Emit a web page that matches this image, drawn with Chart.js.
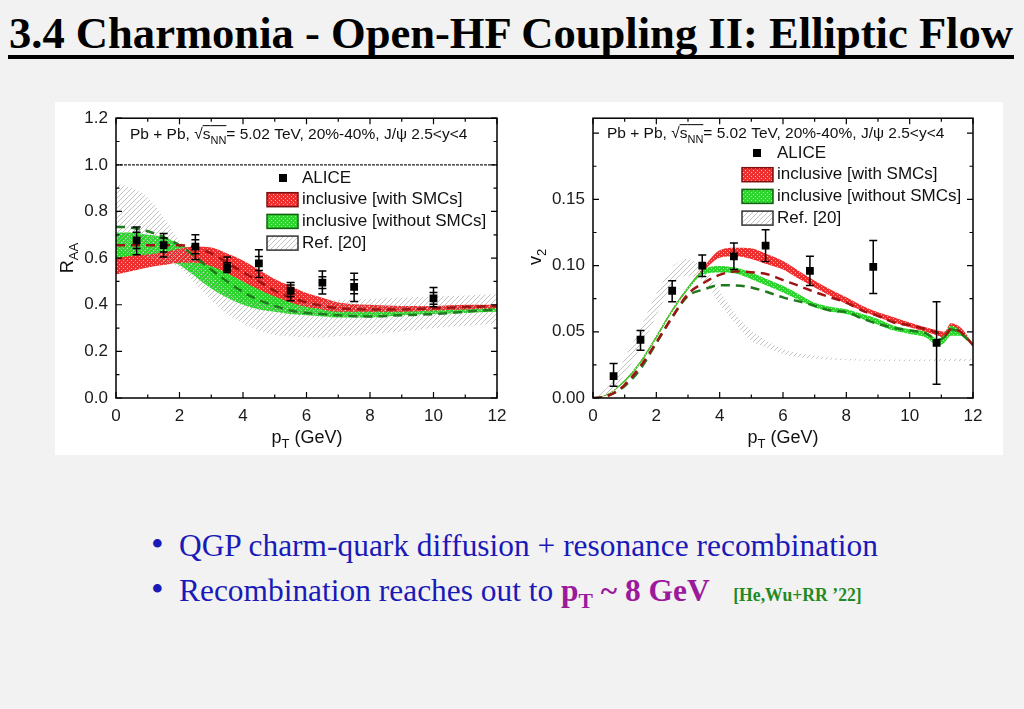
<!DOCTYPE html>
<html>
<head>
<meta charset="utf-8">
<script src="https://cdn.jsdelivr.net/npm/chart.js@4.4.1/dist/chart.umd.min.js"></script>
<style>
  html, body { margin: 0; padding: 0; }
  body { width: 1024px; height: 709px; background: #f2f2f2; position: relative; overflow: hidden;
         font-family: 'Liberation Serif', 'Times New Roman', serif; }
  #title { position: absolute; left: 9px; top: 12px; font-weight: bold; font-size: 44px; line-height: 44px;
           white-space: nowrap; transform-origin: 0 0; color: #000; }
  #rule { position: absolute; left: 8px; top: 55px; width: 1006px; height: 3.5px; background: #000; }
  #panel { position: absolute; left: 55px; top: 102px; width: 948px; height: 353px; background: #fff; }
  canvas { position: absolute; }
  .bul { position: absolute; left: 151px; font-size: 36px; line-height: 36px; color: #1a1ab8; }
  .line { position: absolute; left: 179px; font-size: 32px; line-height: 32px; color: #1a1ab8;
          white-space: nowrap; transform-origin: 0 0; }
  .hl { color: #9b1a9b; font-weight: bold; }
  .ref { color: #238a23; font-weight: bold; font-size: 18px; margin-left: 24px; }
</style>
</head>
<body>
<div id="title">3.4 Charmonia - Open-HF Coupling II: Elliptic Flow</div>
<div id="rule"></div>
<div id="panel"></div>
<canvas id="raaChart" width="460" height="355" style="left:55px;top:100px"></canvas>
<canvas id="v2Chart" width="488" height="355" style="left:515px;top:100px"></canvas>

<div class="bul" style="top:526px">•</div>
<div class="line" id="l1" style="top:529px">QGP charm-quark diffusion + resonance recombination</div>
<div class="bul" style="top:571px">•</div>
<div class="line" id="l2" style="top:574px">Recombination reaches out to <span class="hl">p<sub style="font-size:22px">T</sub> ~ 8 GeV</span><span class="ref">[He,Wu+RR ’22]</span></div>

<script>
// ---- R_AA panel data ----
const raaPt = [0, 0.5, 1, 1.5, 2, 2.5, 3, 3.5, 4, 4.5, 5, 5.5, 6, 6.5, 7, 8, 9, 10, 11, 12];
const raaWithLo = [0.53, 0.545, 0.56, 0.57, 0.58, 0.58, 0.565, 0.535, 0.50, 0.465, 0.435, 0.41, 0.39, 0.38, 0.37, 0.37, 0.37, 0.375, 0.38, 0.385];
const raaWithHi = [0.60, 0.61, 0.615, 0.625, 0.64, 0.65, 0.645, 0.62, 0.59, 0.55, 0.51, 0.48, 0.45, 0.43, 0.41, 0.40, 0.395, 0.395, 0.40, 0.40];
const raaWithoutLo = [0.60, 0.605, 0.60, 0.59, 0.57, 0.52, 0.47, 0.43, 0.40, 0.38, 0.37, 0.36, 0.355, 0.35, 0.345, 0.345, 0.355, 0.36, 0.365, 0.37];
const raaWithoutHi = [0.71, 0.71, 0.70, 0.69, 0.66, 0.63, 0.59, 0.545, 0.50, 0.475, 0.445, 0.42, 0.40, 0.39, 0.38, 0.375, 0.375, 0.38, 0.39, 0.395];
const raaWithDash = [0.655, 0.655, 0.655, 0.655, 0.655, 0.645, 0.62, 0.58, 0.54, 0.50, 0.46, 0.43, 0.41, 0.395, 0.385, 0.38, 0.38, 0.385, 0.39, 0.395];
const raaWithoutDash = [0.735, 0.73, 0.715, 0.69, 0.655, 0.605, 0.55, 0.50, 0.455, 0.42, 0.395, 0.375, 0.365, 0.36, 0.355, 0.35, 0.355, 0.36, 0.37, 0.38];
const raaRefLo = [0.64, 0.62, 0.60, 0.58, 0.56, 0.49, 0.42, 0.36, 0.32, 0.29, 0.27, 0.265, 0.26, 0.26, 0.265, 0.275, 0.285, 0.30, 0.31, 0.32];
const raaRefHi = [0.92, 0.90, 0.86, 0.775, 0.675, 0.59, 0.52, 0.46, 0.42, 0.405, 0.40, 0.40, 0.41, 0.415, 0.42, 0.425, 0.43, 0.435, 0.44, 0.445];

const aliceRaaPt = [0.65, 1.5, 2.5, 3.5, 4.5, 5.5, 6.5, 7.5, 10];
const aliceRaa = [0.676, 0.656, 0.649, 0.56, 0.577, 0.46, 0.495, 0.477, 0.427];
const aliceRaaHi = [0.733, 0.705, 0.70, 0.605, 0.636, 0.495, 0.545, 0.535, 0.474];
const aliceRaaLo = [0.614, 0.605, 0.594, 0.538, 0.517, 0.417, 0.446, 0.414, 0.391];
const aliceRaaStat = [0.035, 0.03, 0.03, 0.02, 0.03, 0.025, 0.025, 0.03, 0.025];

// ---- v2 panel data ----
const v2Pt = [0, 0.25, 0.5, 0.75, 1, 1.5, 2, 2.5, 3, 3.5, 4, 4.5, 5, 5.5, 6, 6.5, 7, 7.5, 8, 8.5, 9, 9.5, 10, 10.5, 10.9, 11.1, 11.3, 11.6, 12];
const v2WithLo = [0, 0.0005, 0.003, 0.007, 0.012, 0.026, 0.045, 0.065, 0.082, 0.096, 0.106, 0.107, 0.105, 0.101, 0.097, 0.090, 0.0835, 0.077, 0.071, 0.066, 0.061, 0.057, 0.0534, 0.050, 0.047, 0.045, 0.050, 0.048, 0.0396];
const v2WithHi = [0, 0.001, 0.0035, 0.008, 0.0135, 0.028, 0.047, 0.067, 0.084, 0.099, 0.1115, 0.1135, 0.113, 0.1085, 0.1035, 0.096, 0.0885, 0.082, 0.076, 0.0697, 0.0647, 0.061, 0.057, 0.0534, 0.051, 0.050, 0.0564, 0.0534, 0.041];
const v2WithoutLo = [0, 0.0005, 0.003, 0.007, 0.012, 0.026, 0.045, 0.065, 0.082, 0.0935, 0.0947, 0.094, 0.0897, 0.0847, 0.0797, 0.074, 0.0684, 0.0654, 0.0634, 0.0597, 0.0554, 0.0509, 0.0484, 0.0459, 0.0396, 0.042, 0.047, 0.047, 0.039];
const v2WithoutHi = [0, 0.001, 0.0035, 0.008, 0.0135, 0.028, 0.047, 0.067, 0.084, 0.097, 0.0997, 0.0985, 0.0947, 0.0897, 0.0847, 0.0784, 0.072, 0.069, 0.067, 0.0634, 0.0597, 0.0546, 0.052, 0.050, 0.0446, 0.048, 0.0546, 0.051, 0.041];
const v2WithDash = [0, 0.0003, 0.002, 0.005, 0.010, 0.024, 0.042, 0.061, 0.0785, 0.087, 0.093, 0.0955, 0.095, 0.0935, 0.089, 0.0847, 0.080, 0.076, 0.072, 0.066, 0.062, 0.057, 0.055, 0.052, 0.049, 0.047, 0.052, 0.050, 0.040];
const v2WithoutDash = [0, 0.0003, 0.002, 0.005, 0.009, 0.022, 0.0415, 0.061, 0.077, 0.082, 0.0852, 0.085, 0.0835, 0.080, 0.076, 0.073, 0.0697, 0.066, 0.065, 0.060, 0.0559, 0.053, 0.0509, 0.049, 0.044, 0.046, 0.052, 0.049, 0.040];

const v2RefPt = [0, 0.5, 0.75, 1, 1.5, 2, 2.5, 2.9, 3.5, 4, 4.5, 5, 5.5, 6, 7, 8, 9, 10, 11, 12];
const v2RefLo = [0, 0.004, 0.010, 0.018, 0.038, 0.062, 0.085, 0.092, 0.0885, 0.071, 0.056, 0.043, 0.038, 0.033, 0.0296, 0.0285, 0.028, 0.028, 0.028, 0.028];
const v2RefHi = [0, 0.009, 0.018, 0.030, 0.053, 0.079, 0.098, 0.105, 0.0985, 0.081, 0.0634, 0.051, 0.043, 0.037, 0.032, 0.0296, 0.029, 0.029, 0.0295, 0.0296];

const aliceV2Pt = [0.65, 1.5, 2.5, 3.45, 4.45, 5.45, 6.85, 8.85, 10.85];
const aliceV2 = [0.0165, 0.044, 0.081, 0.100, 0.107, 0.115, 0.096, 0.099, 0.0416];
const aliceV2Hi = [0.026, 0.051, 0.0885, 0.108, 0.117, 0.127, 0.107, 0.119, 0.0727];
const aliceV2Lo = [0.0088, 0.036, 0.0727, 0.0917, 0.097, 0.103, 0.085, 0.079, 0.0103];

const legendLabels = ['ALICE', 'inclusive [with SMCs]', 'inclusive [without SMCs]', 'Ref. [20]'];

// fit the slide text to its width in the picture
function fitWidth(id, target) {
  const el = document.getElementById(id);
  const w = el.getBoundingClientRect().width;
  const s = target / w;
  el.style.transform = 'scaleX(' + s + ')';
  return s;
}
fitWidth('title', 1004);
const s1 = fitWidth('l1', 699);
document.getElementById('l2').style.transform = 'scaleX(' + s1 + ')';

// fill patterns
function makePattern(w, h, draw) {
  const c = document.createElement('canvas');
  c.width = w; c.height = h;
  draw(c.getContext('2d'));
  return c.getContext('2d').createPattern(c, 'repeat');
}
const redFill = makePattern(4, 4, g => {
  g.fillStyle = '#ee2f2f'; g.fillRect(0, 0, 4, 4);
  g.fillStyle = '#ffb4b4'; g.fillRect(0, 0, 1, 1); g.fillRect(2, 2, 1, 1);
});
const greenFill = makePattern(4, 4, g => {
  g.fillStyle = '#2fd52f'; g.fillRect(0, 0, 4, 4);
  g.fillStyle = '#a8f5a8'; g.fillRect(0, 0, 1, 1); g.fillRect(2, 2, 1, 1);
});
const hatchFill = makePattern(5, 5, g => {
  g.strokeStyle = 'rgba(175,175,175,0.75)'; g.lineWidth = 1;
  g.beginPath();
  g.moveTo(-1, 6); g.lineTo(6, -1);
  g.moveTo(-1, 1); g.lineTo(1, -1);
  g.moveTo(4, 6); g.lineTo(6, 4);
  g.stroke();
});

const pts = (xs, ys) => xs.map((x, i) => ({ x: x, y: ys[i] }));

function band(xs, lo, hi, fill, order) {
  const common = { pointRadius: 0, borderColor: 'transparent', borderWidth: 1, cubicInterpolationMode: 'monotone', order: order };
  return [
    Object.assign({ data: pts(xs, lo), fill: false }, common),
    Object.assign({ data: pts(xs, hi), fill: '-1', backgroundColor: fill }, common)
  ];
}
function dashed(xs, ys, color, order) {
  return { data: pts(xs, ys), borderColor: color, borderWidth: 2.5, borderDash: [9, 6], pointRadius: 0,
           fill: false, cubicInterpolationMode: 'monotone', order: order };
}
function alice(xs, ys) {
  return { data: pts(xs, ys), showLine: false, pointStyle: 'rect', pointRadius: 5.5,
           pointBackgroundColor: '#000', pointBorderColor: '#000', pointBorderWidth: 0, order: 0 };
}

function drawParts(ctx, parts, x, y, size, align) {
  const sub = Math.round(size * 0.72);
  const widths = parts.map(p => {
    ctx.font = (p.sub ? sub : size) + 'px "Liberation Sans", Arial, sans-serif';
    return ctx.measureText(p.t).width;
  });
  const total = widths.reduce((a, b) => a + b, 0);
  let cx = align === 'center' ? x - total / 2 : x;
  ctx.textAlign = 'left';
  ctx.textBaseline = 'alphabetic';
  parts.forEach((p, i) => {
    ctx.font = (p.sub ? sub : size) + 'px "Liberation Sans", Arial, sans-serif';
    ctx.fillText(p.t, cx, p.sub ? y + size * 0.3 : y);
    if (p.over) {
      ctx.beginPath();
      ctx.moveTo(cx, y - size * 0.86);
      ctx.lineTo(cx + widths[i], y - size * 0.86);
      ctx.stroke();
    }
    cx += widths[i];
  });
}

// frame + inward ticks, error bars, legend and labels
function decorPlugin(cfg) {
  return {
    id: 'decor',
    afterDatasetsDraw(chart) {
      const ctx = chart.ctx, xs = chart.scales.x, ys = chart.scales.y;
      ctx.save();
      ctx.strokeStyle = '#000';
      ctx.lineWidth = 1.5;
      cfg.err.pt.forEach((p, i) => {
        const x = xs.getPixelForValue(p);
        const top = ys.getPixelForValue(cfg.err.hi[i]);
        const bot = ys.getPixelForValue(cfg.err.lo[i]);
        ctx.beginPath();
        ctx.moveTo(x, top); ctx.lineTo(x, bot);
        ctx.moveTo(x - 4, top); ctx.lineTo(x + 4, top);
        ctx.moveTo(x - 4, bot); ctx.lineTo(x + 4, bot);
        if (cfg.err.stat) {
          const v = cfg.err.val[i], d = cfg.err.stat[i];
          const a = ys.getPixelForValue(v + d), b = ys.getPixelForValue(v - d);
          ctx.moveTo(x - 4, a); ctx.lineTo(x + 4, a);
          ctx.moveTo(x - 4, b); ctx.lineTo(x + 4, b);
        }
        ctx.stroke();
      });
      ctx.restore();
    },
    afterDraw(chart) {
      const ctx = chart.ctx, a = chart.chartArea, xs = chart.scales.x, ys = chart.scales.y;
      ctx.save();
      ctx.strokeStyle = '#000';
      ctx.lineWidth = 1.5;
      ctx.strokeRect(a.left, a.top, a.right - a.left, a.bottom - a.top);
      ctx.lineWidth = 1.2;
      ctx.beginPath();
      for (let v = 0; v <= 12.0001; v += 1) {
        const len = Math.round(v) % 2 === 0 ? 6 : 3.5;
        const x = xs.getPixelForValue(v);
        ctx.moveTo(x, a.bottom); ctx.lineTo(x, a.bottom - len);
        ctx.moveTo(x, a.top); ctx.lineTo(x, a.top + len);
      }
      for (let k = 0; k * cfg.minor <= cfg.yMax + 1e-9; k++) {
        const len = k % 2 === 0 ? 6 : 3.5;
        const y = ys.getPixelForValue(k * cfg.minor);
        ctx.moveTo(a.left, y); ctx.lineTo(a.left + len, y);
        ctx.moveTo(a.right, y); ctx.lineTo(a.right - len, y);
      }
      ctx.stroke();

      // axis titles and annotation
      ctx.fillStyle = '#111';
      ctx.lineWidth = 1;
      drawParts(ctx, [{ t: 'p' }, { t: 'T', sub: true }, { t: ' (GeV)' }], cfg.xTitle[0], cfg.xTitle[1], 18, 'center');
      ctx.save();
      ctx.translate(cfg.yTitle[0], cfg.yTitle[1]);
      ctx.rotate(-Math.PI / 2);
      drawParts(ctx, cfg.yTitleParts, 0, 6, 18, 'center');
      ctx.restore();
      drawParts(ctx, [{ t: 'Pb + Pb, √' }, { t: 's', over: true }, { t: 'NN', sub: true, over: true },
                      { t: '= 5.02 TeV, 20%-40%, J/ψ 2.5<y<4' }], cfg.note[0], cfg.note[1], 15.5, 'left');

      // legend
      const L = cfg.legend;
      ctx.font = '17px "Liberation Sans", Arial, sans-serif';
      ctx.textBaseline = 'middle';
      ctx.textAlign = 'left';
      ctx.fillStyle = '#000';
      ctx.fillRect(L.sq - 4, L.y0 - 4, 8, 8);
      ctx.fillStyle = '#111';
      ctx.fillText(legendLabels[0], L.tx, L.y0);
      const fills = [redFill, greenFill, hatchFill];
      const edges = ['#7a1010', '#136013', '#333'];
      for (let i = 0; i < 3; i++) {
        const cy = L.y0 + L.dy * (i + 1);
        if (i === 2) { ctx.fillStyle = '#fff'; ctx.fillRect(L.sx, cy - 7, L.sw, 14); }
        ctx.fillStyle = fills[i];
        ctx.fillRect(L.sx, cy - 7, L.sw, 14);
        ctx.strokeStyle = edges[i];
        ctx.lineWidth = 1.5;
        ctx.strokeRect(L.sx, cy - 7, L.sw, 14);
        ctx.fillStyle = '#111';
        ctx.fillText(legendLabels[i + 1], L.tx, cy);
      }
      ctx.restore();
    }
  };
}

function makeOptions(yMax, yWidth, padRight, step, digits) {
  const tickFont = { family: '"Liberation Sans", Arial, sans-serif', size: 17 };
  return {
    responsive: false, animation: false, events: [],
    layout: { padding: { top: 17, right: padRight, left: 0, bottom: 0 } },
    plugins: { legend: { display: false }, tooltip: { enabled: false } },
    scales: {
      x: {
        type: 'linear', min: 0, max: 12,
        afterFit(s) { s.height = 57; },
        grid: { display: false, drawTicks: false }, border: { display: false },
        ticks: { stepSize: 2, padding: 8, color: '#1a1a1a', font: tickFont, maxRotation: 0 }
      },
      y: {
        type: 'linear', min: 0, max: yMax,
        afterFit(s) { s.width = yWidth; },
        afterBuildTicks(s) {
          s.ticks = s.ticks.filter(t => Math.abs(t.value / step - Math.round(t.value / step)) < 1e-6);
        },
        grid: { display: false, drawTicks: false }, border: { display: false },
        ticks: { stepSize: step, padding: 8, color: '#1a1a1a', font: tickFont,
                 callback: v => Number(v).toFixed(digits) }
      }
    }
  };
}

new Chart(document.getElementById('raaChart'), {
  type: 'line',
  data: {
    datasets: [
      alice(aliceRaaPt, aliceRaa),
      dashed(raaPt, raaWithDash, '#9e1414', 1),
      dashed(raaPt, raaWithoutDash, '#1f7a1f', 2),
      { data: [{ x: 0, y: 1 }, { x: 12, y: 1 }], borderColor: '#222', borderWidth: 1.4, borderDash: [3, 1],
        pointRadius: 0, fill: false, order: 3 },
      ...band(raaPt, raaRefLo, raaRefHi, hatchFill, 4),
      ...band(raaPt, raaWithLo, raaWithHi, redFill, 5),
      ...band(raaPt, raaWithoutLo, raaWithoutHi, greenFill, 6)
    ]
  },
  options: makeOptions(1.2, 61, 18, 0.2, 1),
  plugins: [decorPlugin({
    yMax: 1.2, minor: 0.1,
    err: { pt: aliceRaaPt, val: aliceRaa, hi: aliceRaaHi, lo: aliceRaaLo, stat: aliceRaaStat },
    xTitle: [252, 343], yTitle: [12, 158], yTitleParts: [{ t: 'R' }, { t: 'AA', sub: true }],
    note: [75, 39],
    legend: { sq: 228, tx: 247, y0: 78, dy: 21.7, sx: 212, sw: 31 }
  })]
});

new Chart(document.getElementById('v2Chart'), {
  type: 'line',
  data: {
    datasets: [
      alice(aliceV2Pt, aliceV2),
      dashed(v2Pt, v2WithDash, '#9e1414', 1),
      dashed(v2Pt, v2WithoutDash, '#1f7a1f', 2),
      ...band(v2RefPt, v2RefLo, v2RefHi, hatchFill, 6),
      ...band(v2Pt, v2WithLo, v2WithHi, redFill, 4),
      ...band(v2Pt, v2WithoutLo, v2WithoutHi, greenFill, 3)
    ]
  },
  options: makeOptions(0.2113, 78, 30, 0.05, 2),
  plugins: [decorPlugin({
    yMax: 0.2113, minor: 0.025,
    err: { pt: aliceV2Pt, val: aliceV2, hi: aliceV2Hi, lo: aliceV2Lo },
    xTitle: [268, 343], yTitle: [20, 157], yTitleParts: [{ t: 'v' }, { t: '2', sub: true }],
    note: [92, 38],
    legend: { sq: 242, tx: 262, y0: 53, dy: 21.7, sx: 227, sw: 31 }
  })]
});
</script>
</body>
</html>
